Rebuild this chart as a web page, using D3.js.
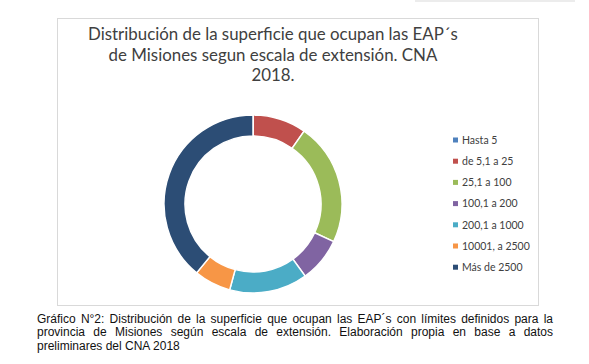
<!DOCTYPE html>
<html>
<head>
<meta charset="utf-8">
<script src="https://cdn.jsdelivr.net/npm/d3@7"></script>
<style>
  body { margin: 0; background: #fff; }
  svg { display: block; }
</style>
</head>
<body>
<div id="chart"></div>
<script>
var categories = ["Hasta 5", "de 5,1 a 25", "25,1 a 100", "100,1 a 200", "200,1 a 1000", "10001, a 2500", "Más de 2500"];
var values = [0.05, 9.7, 22.2, 8.1, 14.2, 6.7, 39.1];
var colors = ["#4F81BD", "#C0504D", "#9BBB59", "#8064A2", "#4BACC6", "#F79646", "#2C4D75"];
var titleLines = ["Distribución de la superficie que ocupan las EAP´s", "de Misiones segun escala de extensión. CNA", "2018."];
var captionLines = [
  "Gráfico N°2: Distribución de la superficie que ocupan las EAP´s con límites definidos para la",
  "provincia de Misiones según escala de extensión. Elaboración propia en base a datos",
  "preliminares del CNA 2018"
];

var width = 589, height = 364;
var svg = d3.select("#chart").append("svg")
  .attr("width", width)
  .attr("height", height);

// faint strip at the very top (scan artefact)
svg.append("rect")
  .attr("x", 415).attr("y", 0)
  .attr("width", 160).attr("height", 2)
  .attr("fill", "#ececec");

// chart frame
svg.append("rect")
  .attr("x", 57.5).attr("y", 18.5)
  .attr("width", 481).attr("height", 287)
  .attr("fill", "#fff")
  .attr("stroke", "#d9d9d9")
  .attr("stroke-width", 1);

// title
var titleFont = "Lato, 'Liberation Sans', sans-serif";
var title = svg.append("g").attr("class", "title");
title.selectAll("text")
  .data(titleLines).enter()
  .append("text")
  .attr("x", 273)
  .attr("y", function (d, i) { return 40 + i * 20.5; })
  .attr("text-anchor", "middle")
  .attr("fill", "#404040")
  .style("font-family", titleFont)
  .style("font-size", "17px")
  .text(function (d) { return d; });
// fit the first line to the width seen in the picture
var w0 = title.select("text").node().getComputedTextLength();
var titleSize = 17 * 370 / w0;
title.selectAll("text").style("font-size", titleSize.toFixed(2) + "px");

// donut
var cx = 253, cy = 204;
var pie = d3.pie().sort(null).value(function (d) { return d; });
var arc = d3.arc().innerRadius(68).outerRadius(89);
var donut = svg.append("g").attr("transform", "translate(" + cx + "," + cy + ")");
donut.selectAll("path")
  .data(pie(values)).enter()
  .append("path")
  .attr("d", arc)
  .attr("fill", function (d, i) { return colors[i]; })
  .attr("stroke", "#fff")
  .attr("stroke-width", 1.5);

// legend
var legend = svg.append("g").attr("transform", "translate(453,140)");
var item = legend.selectAll("g")
  .data(categories).enter()
  .append("g")
  .attr("transform", function (d, i) { return "translate(0," + (i * 21.2) + ")"; });
item.append("rect")
  .attr("x", 0).attr("y", -2.5)
  .attr("width", 5).attr("height", 5)
  .attr("fill", function (d, i) { return colors[i]; });
item.append("text")
  .attr("x", 9).attr("y", 3.8)
  .attr("fill", "#404040")
  .style("font-family", titleFont)
  .style("font-size", "10.5px")
  .text(function (d) { return d; });

// caption, justified like the source document
var capX0 = 37, capX1 = 553;
var caption = svg.append("g")
  .style("font-family", "'Liberation Sans', Arial, sans-serif")
  .style("font-size", "12px")
  .attr("fill", "#111");
captionLines.forEach(function (line, li) {
  var y = 322.5 + li * 13.5;
  var words = line.split(" ");
  if (li === captionLines.length - 1) {
    caption.append("text").attr("x", capX0).attr("y", y).text(line);
    return;
  }
  var widths = words.map(function (w) {
    var t = caption.append("text").text(w);
    var wd = t.node().getComputedTextLength();
    t.remove();
    return wd;
  });
  var total = d3.sum(widths);
  var gap = (capX1 - capX0 - total) / (words.length - 1);
  var x = capX0;
  words.forEach(function (w, i) {
    caption.append("text").attr("x", x).attr("y", y).text(w);
    x += widths[i] + gap;
  });
});
</script>
</body>
</html>
